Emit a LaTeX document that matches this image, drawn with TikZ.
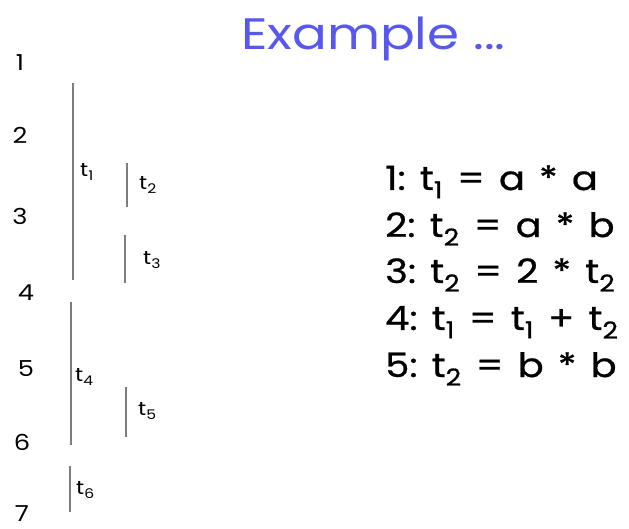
\documentclass[tikz,border=0pt]{standalone}
\usepackage{fontspec}
\setmainfont{Poppins}
\newfontfamily\widefont[FakeStretch=1.17]{Poppins}
\newfontfamily\eqfont[FakeStretch=1.15,FakeBold=0.7]{Poppins}
\definecolor{titleblue}{RGB}{88,88,238}
\definecolor{linegray}{RGB}{125,125,125}
\newcommand{\subix}[1]{\textsubscript{#1}}
\newcommand{\gap}{\hspace{0.42em}}
\begin{document}
\begin{tikzpicture}[x=1pt,y=-1pt,
  num/.style={font=\widefont\fontsize{22}{22}\selectfont, anchor=center, inner sep=0pt},
  lab/.style={font=\widefont\fontsize{19}{19}\selectfont, anchor=west, inner sep=0pt},
  life/.style={draw=linegray, line width=1.5pt},
  eq/.style={font=\eqfont\fontsize{33.5}{33.5}\selectfont, anchor=base west, inner sep=0pt}]
\useasboundingbox (0,0) rectangle (629,529);
% step numbers
\node[num] (n1) at (20,63) {1};
\node[num] (n2) at (20,135) {2};
\node[num] (n3) at (20,216) {3};
\node[num] (n4) at (26,293) {4};
\node[num] (n5) at (26,369) {5};
\node[num] (n6) at (22,442) {6};
\node[num] (n7) at (22,514) {7};
% lifetimes
\coordinate (a1) at (73,83); \coordinate (b1) at (73,280);
\coordinate (a2) at (127,163); \coordinate (b2) at (127,207);
\coordinate (a3) at (125,235); \coordinate (b3) at (125,283);
\coordinate (a4) at (71,302); \coordinate (b4) at (71,445);
\coordinate (a5) at (126,387); \coordinate (b5) at (126,437);
\coordinate (a6) at (70,466); \coordinate (b6) at (70,512);
\draw[life] (a1) -- (b1);
\draw[life] (a2) -- (b2);
\draw[life] (a3) -- (b3);
\draw[life] (a4) -- (b4);
\draw[life] (a5) -- (b5);
\draw[life] (a6) -- (b6);
\node[lab] (l1) at (80,172) {t\subix{1}};
\node[lab] (l2) at (139,185) {t\subix{2}};
\node[lab] (l3) at (143,260) {t\subix{3}};
\node[lab] (l4) at (75,377) {t\subix{4}};
\node[lab] (l5) at (138,411) {t\subix{5}};
\node[lab] (l6) at (76,490) {t\subix{6}};
% title
\node[font=\widefont\fontsize{44}{44}\selectfont, text=titleblue, anchor=base west, inner sep=0pt] (title) at (241,50) {Example ...};
% equations
\node[eq] (e1) at (385,190) {1:\gap t\subix{1}\gap =\gap a\gap *\gap a};
\node[eq] (e2) at (385,237) {2:\gap t\subix{2}\gap =\gap a\gap *\gap b};
\node[eq] (e3) at (385,283) {3:\gap t\subix{2}\gap =\gap 2\gap *\gap t\subix{2}};
\node[eq] (e4) at (385,330) {4:\gap t\subix{1}\gap =\gap t\subix{1}\gap +\gap t\subix{2}};
\node[eq] (e5) at (385,377) {5:\gap t\subix{2}\gap =\gap b\gap *\gap b};
\end{tikzpicture}
\end{document}
